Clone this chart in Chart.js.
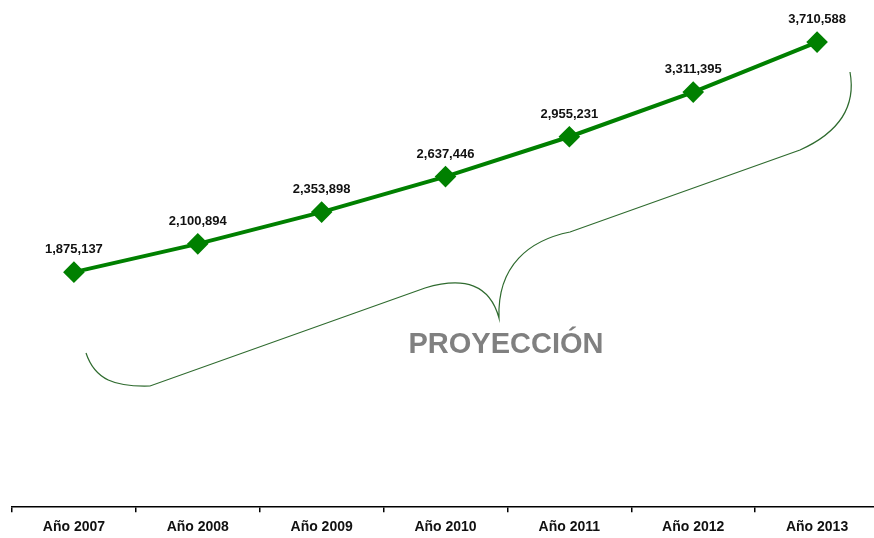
<!DOCTYPE html>
<html>
<head>
<meta charset="utf-8">
<script src="https://cdn.jsdelivr.net/npm/chart.js@4/dist/chart.umd.min.js"></script>
<style>
  html, body { margin: 0; padding: 0; background: #fff; overflow: hidden; }
  #wrap { width: 879px; height: 543px; position: relative; }
</style>
</head>
<body>
<div id="wrap"><canvas id="lineChart"></canvas></div>
<script>
const years = ['Año 2007', 'Año 2008', 'Año 2009', 'Año 2010', 'Año 2011', 'Año 2012', 'Año 2013'];
const population = [1875137, 2100894, 2353898, 2637446, 2955231, 3311395, 3710588];
const braceText = 'PROYECCIÓN';

const ctx = document.getElementById('lineChart').getContext('2d');

// value labels above each diamond
const valueLabels = {
  id: 'valueLabels',
  afterDatasetsDraw(chart) {
    const c = chart.ctx;
    const meta = chart.getDatasetMeta(0);
    c.save();
    c.font = 'bold 13px "Liberation Sans", Arial, sans-serif';
    c.fillStyle = '#111';
    c.textAlign = 'center';
    c.textBaseline = 'alphabetic';
    meta.data.forEach((pt, i) => {
      c.fillText(population[i].toLocaleString('en-US'), pt.x, pt.y - 19);
    });
    c.restore();
  }
};

// the curly brace + "PROYECCIÓN" note
const braceNote = {
  id: 'braceNote',
  beforeDatasetsDraw(chart) {
    const c = chart.ctx;
    c.save();
    c.strokeStyle = '#2f6b2f';
    c.lineWidth = 1.2;
    c.beginPath();
    c.moveTo(86, 353);
    c.bezierCurveTo(95, 380, 115, 387, 150, 386);
    c.lineTo(425, 288);
    c.bezierCurveTo(465, 276, 490, 285, 499, 318);
    c.bezierCurveTo(497, 265, 530, 240, 570, 232);
    c.lineTo(800, 150);
    c.bezierCurveTo(840, 132, 856, 105, 850, 72);
    c.stroke();

    c.font = 'bold 29px "Liberation Sans", Arial, sans-serif';
    c.fillStyle = '#808080';
    c.textAlign = 'center';
    c.fillText(braceText, 506, 353);
    c.restore();
  }
};

new Chart(ctx, {
  type: 'line',
  data: {
    labels: years,
    datasets: [{
      data: population,
      borderColor: '#008000',
      backgroundColor: '#008000',
      borderWidth: 4,
      pointStyle: 'rectRot',
      pointRadius: 8,
      pointHoverRadius: 8,
      tension: 0,
      clip: false
    }]
  },
  options: {
    responsive: true,
    maintainAspectRatio: false,
    animation: false,
    layout: { autoPadding: false, padding: { left: 12, right: 0, top: 0, bottom: 0 } },
    plugins: {
      legend: { display: false },
      tooltip: { enabled: false }
    },
    scales: {
      x: {
        offset: true,
        grid: { display: true, drawOnChartArea: false, drawTicks: true, tickLength: 5, offset: true, color: '#000', lineWidth: 1.5 },
        border: { display: true, color: '#000', width: 1.5 },
        ticks: {
          color: '#111',
          padding: 7,
          font: { family: '"Liberation Sans", Arial, sans-serif', size: 14, weight: 'bold' }
        }
      },
      y: {
        display: false,
        min: 0,
        max: 4046000
      }
    }
  },
  plugins: [valueLabels, braceNote]
});
</script>
</body>
</html>
